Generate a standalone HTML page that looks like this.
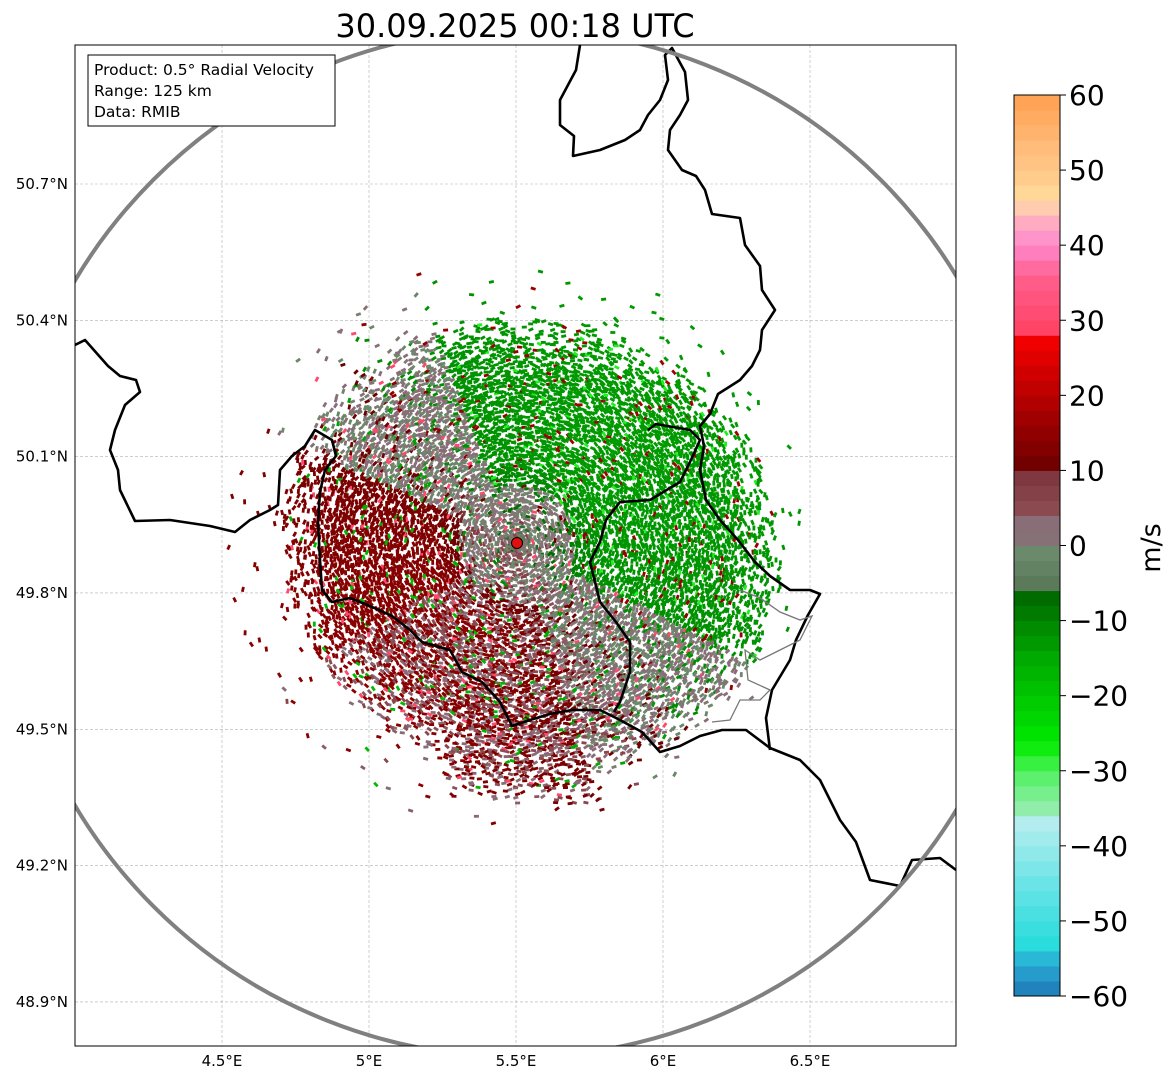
<!DOCTYPE html>
<html><head><meta charset="utf-8"><style>
html,body{margin:0;padding:0;background:#fff;}
body{width:1171px;height:1081px;position:relative;overflow:hidden;font-family:"Liberation Sans",sans-serif;}
</style></head><body>
<svg id="chart" width="1171" height="1081" xmlns="http://www.w3.org/2000/svg" font-family="DejaVu Sans, Liberation Sans, sans-serif">
<text x="515" y="37" font-size="32" text-anchor="middle" fill="#000">30.09.2025 00:18 UTC</text>
<defs><clipPath id="mapclip"><rect x="75" y="45" width="881" height="1001"/></clipPath></defs>
<g id="grid"></g>
<g id="echo" clip-path="url(#mapclip)"></g>
<g clip-path="url(#mapclip)" fill="none" stroke="#000" stroke-width="2.6" stroke-linejoin="round">
<polyline points="580,45 576,70 560,100 560,125 574,136 573,156 600,150 625,140 640,130 648,115 660,100 668,80 665,55 672,48 685,72 688,100 680,115 670,130 668,150 682,170 696,176 705,190 712,214 740,218 745,245 760,266 762,290 775,310 762,330 760,350 752,366 740,380 718,394 710,414 700,426 704,446 700,470 706,500 720,520 738,540 755,562 770,576 790,590 810,590 820,594 808,615 796,640 790,660 772,690 766,718 770,750"/>
<polyline points="75,345 85,340 108,366 120,376 136,380 140,392 125,405 115,430 110,450 118,470 120,490 135,521 170,520 210,526 235,532 250,520 270,510 278,505 280,470 292,456 305,446 315,430 332,440 336,456 325,470 320,492 318,522 320,560 322,590 332,602 350,598 370,606 392,616 410,630 422,642 450,650 462,672 482,682 500,702 512,726 530,720 550,714 572,710 600,710 620,720 642,732 660,752 680,746 700,736 722,730 746,730 770,748 800,760 820,780 830,800 840,820 856,842 870,880 900,886 912,860 940,858 956,870"/>
<polyline points="648,430 656,424 690,430 700,440 690,462 680,482 650,500 620,502 606,520 600,542 590,562 600,602 616,622 630,642 630,672 620,702 614,712"/>
</g>
<polyline clip-path="url(#mapclip)" fill="none" stroke="#777" stroke-width="1.3" points="740,590 760,598 780,612 800,620 812,616 800,640 780,650 760,660 745,650 748,680 770,690 760,700 740,700 730,720 712,722"/>
<circle clip-path="url(#mapclip)" cx="517" cy="543" r="514" fill="none" stroke="#808080" stroke-width="4"/>
<circle cx="517" cy="543" r="5.5" fill="#e01010" stroke="#000" stroke-width="1"/>
<rect x="75" y="45" width="881" height="1001" fill="none" stroke="#000" stroke-width="1"/>
<g>
<rect x="88" y="55" width="247" height="71" fill="#fff" stroke="#000" stroke-width="1"/>
<text x="94" y="75" font-size="15.5">Product: 0.5° Radial Velocity</text>
<text x="94" y="96" font-size="15.5">Range: 125 km</text>
<text x="94" y="117" font-size="15.5">Data: RMIB</text>
</g>
<g id="axes" font-size="15"></g>
<g id="cbar"></g>
<text x="1160" y="548" font-size="27" text-anchor="middle" transform="rotate(-90 1160 548)">m/s</text>
</svg>
<script>
const lonTicks=[4.5,5,5.5,6,6.5];
const lonLabels=["4.5°E","5°E","5.5°E","6°E","6.5°E"];
const latTicks=[50.7,50.4,50.1,49.8,49.5,49.2,48.9];
const latLabels=["50.7°N","50.4°N","50.1°N","49.8°N","49.5°N","49.2°N","48.9°N"];
const cbTicks=[60,50,40,30,20,10,0,-10,-20,-30,-40,-50,-60];
const cbLabels=["60","50","40","30","20","10","0","\u221210","\u221220","\u221230","\u221240","\u221250","\u221260"];
const cbStopVals=[-60,-56,-53,-45,-36,-35,-30,-28,-26,-15,-6,-5,-1,0,4,5,9,10,27,28,36,40,44,46,48,52,60];
const cbStopCols=["#1f77b4","#28a8d4","#2adcdc","#6ae4e6","#bdeef0","#90eeaa","#50f060","#20f020","#00e800","#00aa00","#006400","#5a7a5a","#6b8a6b","#857575","#8a6a78","#8a4a50","#803840","#6a0000","#f00000","#ff4060","#ff6090","#ff88cc","#ffb8c0","#ffe0a0","#ffd090","#ffc080","#ffa050"];
const X=lon=>222+(lon-4.5)*294;
const Y=lat=>184+(50.7-lat)*454.4;
const CB_TOP=95,CB_BOT=996,CB_X=1014,CB_W=46;
const cbY=v=>CB_BOT-(v+60)/120*(CB_BOT-CB_TOP);
const NS="http://www.w3.org/2000/svg";
function mk(t,a,p){const e=document.createElementNS(NS,t);for(const k in a)e.setAttribute(k,a[k]);p.appendChild(e);return e;}
function hex(c){return [1,3,5].map(i=>parseInt(c.substr(i,2),16));}
function colorFor(v){v=Math.max(-60,Math.min(59.9,v));for(let i=0;i<cbStopVals.length-1;i++){if(v>=cbStopVals[i]&&v<cbStopVals[i+1]){const a=hex(cbStopCols[i]),b=hex(cbStopCols[i+1]);const t=(v-cbStopVals[i])/(cbStopVals[i+1]-cbStopVals[i]);return "rgb("+a.map((x,j)=>Math.round(x+(b[j]-x)*t)).join(",")+")";}}return cbStopCols[cbStopCols.length-1];}
const grid=document.getElementById('grid'),axes=document.getElementById('axes');
lonTicks.forEach((v,i)=>{const x=X(v);
const l=mk('line',{x1:x,y1:45,x2:x,y2:1046,stroke:'#b0b0b0','stroke-width':0.6,'stroke-dasharray':'3,2'},grid);

const t=mk('text',{x:x,y:1066,'text-anchor':'middle'},axes);t.textContent=lonLabels[i];
});
latTicks.forEach((v,i)=>{const y=Y(v);
const l=mk('line',{x1:75,y1:y,x2:956,y2:y,stroke:'#b0b0b0','stroke-width':0.6,'stroke-dasharray':'3,2'},grid);

const t=mk('text',{x:68,y:y+5,'text-anchor':'end'},axes);t.textContent=latLabels[i];
});
const cb=document.getElementById('cbar');
for(let v=-60;v<60;v+=2){const r=mk('rect',{x:CB_X,y:cbY(v+2),width:CB_W,height:cbY(v)-cbY(v+2)+0.5,fill:colorFor(v+1)},cb);
}
mk('rect',{x:CB_X,y:CB_TOP,width:CB_W,height:CB_BOT-CB_TOP,fill:'none',stroke:'#000','stroke-width':1},cb);
cbTicks.forEach((v,i)=>{const y=cbY(v);mk('line',{x1:CB_X+CB_W,y1:y,x2:CB_X+CB_W+6,y2:y,stroke:'#000'},cb);
const t=mk('text',{x:CB_X+CB_W+9,y:y+10,'font-size':28},cb);t.textContent=cbLabels[i];
});
// echo texture (visual approximation of the radar field)
const echo=document.getElementById('echo');
function h(a,b){let s=Math.sin(a*127.1+b*311.7)*43758.5453;return s-Math.floor(s);}
const cx=517,cy=543,redDir=Math.atan2(100,-110);
let out="";
for(let r=3;r<290;r+=3.2){const n=Math.max(30,Math.round(2*Math.PI*r/4));
for(let k=0;k<n;k++){const th=2*Math.PI*(k+h(r,k*3))/n;const dx=Math.cos(th),dy=Math.sin(th);
let rmax=240+15*Math.cos(th-0.3)+12*Math.sin(2*th+1);
if(dy>0.8&&Math.abs(dx)<0.3)rmax+=25;
let p=r<rmax*0.75?0.92:(r<rmax?0.92-(r-rmax*0.75)/(rmax*0.25)*0.7:0.02);
if(h(r*1.3,k)>p)continue;
const c=Math.cos(th-redDir);
let v=c>0?(10+4*c)*Math.min(1,0.3+r/120):(-11+2*c)*Math.min(1,0.3+r/120);
const nz=h(k+0.5,r+7);
if(c>-0.35&&c<0.4&&nz>0.2)v=(nz>0.6?1+3*h(r,k+9):-2+2*h(r,k+9));
if(r<60&&nz>0.25)v=(nz-0.6)*4;
if(dy>0.5&&c>0.2&&nz>0.55)v=3+3*h(k,r);
if(nz<0.05)v=-v*1.3;
if(nz>0.97)v=v>0?30:-28;
const x=cx+dx*r+(h(k,r+1)-0.5)*3,y=cy+dy*r+(h(r,k+2)-0.5)*3;
out+='<rect x="'+(x-2.5).toFixed(1)+'" y="'+(y-1.4).toFixed(1)+'" width="5" height="2.8" fill="'+colorFor(v)+'" transform="rotate('+(th*57.3+90+(h(k,r)-0.5)*60).toFixed(0)+' '+x.toFixed(1)+' '+y.toFixed(1)+')"/>';}}
echo.innerHTML=out;
</script>
</body></html>
